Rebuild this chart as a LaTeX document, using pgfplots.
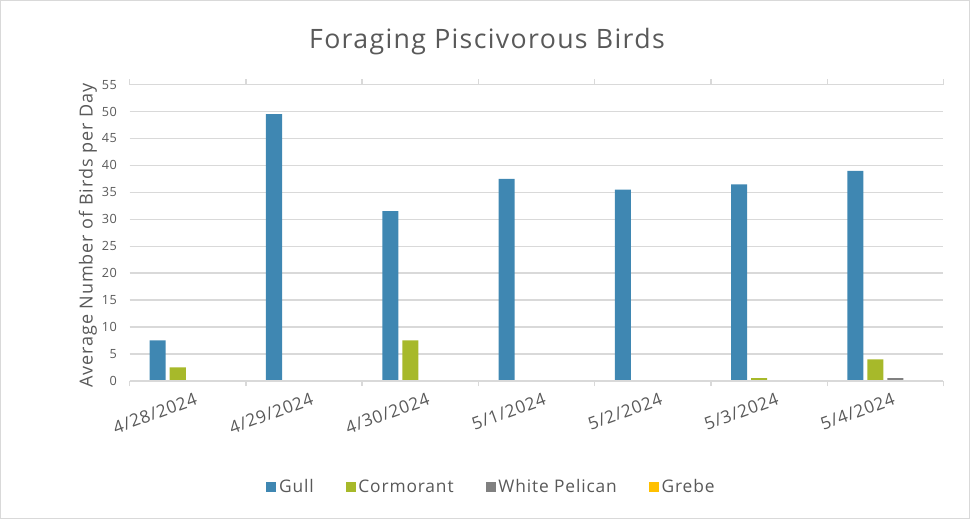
\documentclass[border=0pt]{standalone}
\usepackage{pgfplots}
\pgfplotsset{compat=1.18}
\usepackage{fontspec}
\setmainfont{Open Sans}
\newfontfamily\legfont[LetterSpace=5]{Open Sans}
\newfontfamily\tickfont[LetterSpace=4]{Open Sans}
\newfontfamily\titfont[LetterSpace=5]{Open Sans}
\definecolor{gull}{HTML}{3F87B2}
\definecolor{corm}{HTML}{A7B92A}
\definecolor{pel}{HTML}{808080}
\definecolor{grebe}{HTML}{FFC000}
\definecolor{txt}{HTML}{595959}
\definecolor{grid}{HTML}{D9D9D9}
\begin{document}
\begin{tikzpicture}
\draw[draw=grid,line width=0.75pt,use as bounding box] (0.75pt,0.75pt) rectangle (726.75pt,388.5pt);
\node[text=txt,font=\titfont\fontsize{20}{23}\selectfont] at (365.25pt,357.75pt) {Foraging Piscivorous Birds};
\begin{axis}[
  at={(97.5pt,103.5pt)}, anchor=south west,
  scale only axis, width=609.75pt, height=222pt,
  ymin=0, ymax=55, ytick={0,5,...,55},
  xmin=-0.5, xmax=6.5,
  xtick={0,...,6},
  xticklabels={4/28/2024,4/29/2024,4/30/2024,5/1/2024,5/2/2024,5/3/2024,5/4/2024},
  minor xtick={-0.5,0.5,...,6.5},
  major tick length=0pt,
  minor tick length=4pt,
  minor x tick style={draw=grid, line width=1pt},
  xtick align=outside,
  ymajorgrids, major grid style={draw=grid, line width=1pt},
  axis line style={draw=none},
  extra description/.code={\draw[grid,line width=1pt] (rel axis cs:0,0) -- (rel axis cs:1,0);},
  ytick style={draw=none},
  yticklabel style={text=txt,font=\tickfont\fontsize{9.5}{11}\selectfont, xshift=-6pt},
  xticklabel style={text=txt,font=\tickfont\fontsize{13}{15}\selectfont, rotate=20, anchor=north east, xshift=5pt, yshift=-6pt},
  ylabel={Average Number of Birds per Day},
  ylabel style={text=txt,font=\titfont\fontsize{13.5}{16}\selectfont, at={(rel axis cs:0,0.49)}, anchor=south, yshift=21pt},
  ybar=3pt, bar width=12pt,
  legend columns=4,
  legend style={draw=none, at={(rel axis cs:0.445,-0.358)}, anchor=center, font=\legfont\fontsize{13}{15}\selectfont, text=txt,
    /tikz/every even column/.append style={column sep=22pt}},
  legend image code/.code={\fill[#1] (0pt,-3.75pt) rectangle (7.5pt,3.75pt);},
  /pgf/number format/assume math mode=true,
]
\addplot[fill=gull, draw=none] coordinates {(0,7.5) (1,49.5) (2,31.5) (3,37.5) (4,35.5) (5,36.5) (6,39)};
\addplot[fill=corm, draw=none] coordinates {(0,2.5) (1,0) (2,7.5) (3,0) (4,0) (5,0.5) (6,4)};
\addplot[fill=pel, draw=none] coordinates {(0,0) (1,0) (2,0) (3,0) (4,0) (5,0) (6,0.5)};
\addplot[fill=grebe, draw=none] coordinates {(0,0) (1,0) (2,0) (3,0) (4,0) (5,0) (6,0)};
\legend{Gull,Cormorant,White Pelican,Grebe}
\end{axis}
\end{tikzpicture}
\end{document}
